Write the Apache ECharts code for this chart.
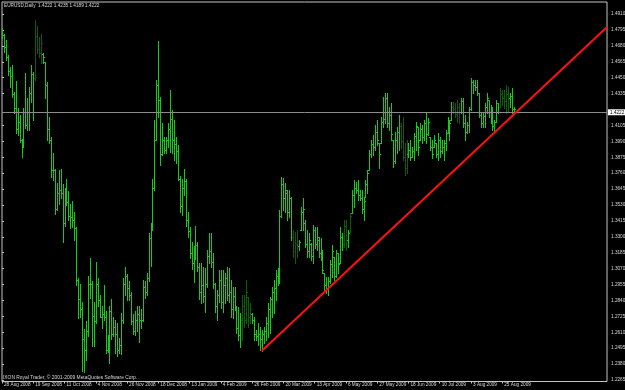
<!DOCTYPE html>
<html><head><meta charset="utf-8">
<script src="https://cdn.jsdelivr.net/npm/echarts@6/dist/echarts.min.js"></script>
<style>html,body{margin:0;padding:0;background:#000;}#c{width:625px;height:390px;}</style>
</head><body><div id="c"></div>
<script>
const symbolName = "EURUSD,Daily";
const copyrightText = "IXON Royal Trader, \u00a9 2001-2009 MetaQuotes Software Corp.";
const dateLabels = ["28 Aug 2008","19 Sep 2008","11 Oct 2008","4 Nov 2008","26 Nov 2008","18 Dec 2008","13 Jan 2009","4 Feb 2009","26 Feb 2009","20 Mar 2009","13 Apr 2009","6 May 2009","27 May 2009","18 Jun 2009","10 Jul 2009","3 Aug 2009","25 Aug 2009"];
const barsPerLabel = 16;
const priceTicks = [1.2265,1.2380,1.2495,1.2610,1.2725,1.2840,1.2955,1.3070,1.3185,1.3300,1.3415,1.3530,1.3645,1.3760,1.3875,1.3990,1.4105,1.4335,1.4450,1.4565,1.4680,1.4795,1.4910];
const opens = [1.4745,1.4760,1.4670,1.4600,1.4500,1.4460,1.4330,1.4230,1.4080,1.4130,1.4000,1.3960,1.4200,1.4110,1.4200,1.4340,1.4480,1.4450,1.4750,1.4660,1.4630,1.4620,1.4560,1.4400,1.4080,1.4000,1.3780,1.3780,1.3500,1.3620,1.3640,1.3620,1.3400,1.3620,1.3550,1.3450,1.3440,1.3420,1.3360,1.2990,1.2850,1.2780,1.2560,1.2480,1.2620,1.2960,1.2960,1.2730,1.2690,1.2960,1.2840,1.2720,1.2740,1.2720,1.2480,1.2490,1.2760,1.2600,1.2650,1.2600,1.2480,1.2520,1.2700,1.2960,1.3020,1.2930,1.2880,1.2690,1.2620,1.2700,1.2740,1.2700,1.2700,1.2940,1.2900,1.3000,1.3290,1.3370,1.3650,1.4000,1.4400,1.4290,1.3900,1.4000,1.3930,1.4000,1.4080,1.4150,1.4000,1.3970,1.3920,1.3720,1.3520,1.3650,1.3700,1.3420,1.3340,1.3180,1.3110,1.3160,1.3240,1.3080,1.2900,1.2950,1.2870,1.2960,1.3160,1.3200,1.3120,1.2960,1.2800,1.2880,1.2990,1.2830,1.2950,1.3000,1.2880,1.2900,1.2780,1.2870,1.2790,1.2640,1.2590,1.2700,1.2800,1.2700,1.2865,1.2720,1.2740,1.2700,1.2600,1.2580,1.2600,1.2560,1.2600,1.2620,1.2680,1.2780,1.2850,1.2900,1.2930,1.3020,1.2990,1.3450,1.3680,1.3580,1.3620,1.3480,1.3580,1.3300,1.3200,1.3250,1.3230,1.3350,1.3480,1.3400,1.3250,1.3200,1.3250,1.3160,1.3350,1.3250,1.3280,1.3180,1.3200,1.3038,1.2950,1.2920,1.2980,1.3100,1.3154,1.3020,1.3180,1.3111,1.3300,1.3250,1.3380,1.3280,1.3335,1.3472,1.3600,1.3650,1.3640,1.3600,1.3580,1.3500,1.3590,1.3680,1.3783,1.3900,1.3970,1.3950,1.4060,1.3978,1.3978,1.4130,1.4150,1.4300,1.4120,1.4180,1.3999,1.3850,1.4000,1.4060,1.4100,1.3990,1.3880,1.3800,1.3900,1.3930,1.3880,1.3920,1.4030,1.4093,1.4000,1.4080,1.4020,1.4120,1.4040,1.4021,1.3950,1.3950,1.3978,1.3900,1.4000,1.3920,1.3950,1.3980,1.4050,1.4140,1.4144,1.4240,1.4220,1.4190,1.4240,1.4200,1.4280,1.4120,1.4060,1.4110,1.4220,1.4420,1.4400,1.4380,1.4339,1.4180,1.4120,1.4170,1.4240,1.4289,1.4200,1.4150,1.4100,1.4130,1.4267,1.4240,1.4330,1.4300,1.4280,1.4330,1.4300,1.4320,1.4222];
const highs = [1.4809,1.4765,1.4722,1.4614,1.4527,1.4541,1.4346,1.4426,1.4230,1.4180,1.4010,1.4230,1.4483,1.4303,1.4382,1.4541,1.4491,1.4867,1.4823,1.4744,1.4765,1.4628,1.4563,1.4418,1.4165,1.4021,1.3905,1.3790,1.3690,1.3780,1.3790,1.3680,1.3650,1.3720,1.3630,1.3540,1.3560,1.3480,1.3370,1.3000,1.2960,1.2830,1.2630,1.2690,1.3020,1.3150,1.2980,1.2830,1.3120,1.3000,1.2880,1.2800,1.2950,1.2760,1.2590,1.2800,1.2850,1.2720,1.2700,1.2680,1.2570,1.2750,1.3000,1.3080,1.3030,1.2980,1.2900,1.2740,1.2760,1.2800,1.2800,1.2780,1.2990,1.2980,1.3040,1.3330,1.3400,1.3720,1.4143,1.4433,1.4715,1.4310,1.4122,1.4021,1.4021,1.4122,1.4361,1.4216,1.4143,1.4021,1.3963,1.3740,1.3720,1.3790,1.3720,1.3480,1.3370,1.3260,1.3230,1.3380,1.3260,1.3110,1.3111,1.3082,1.3074,1.3204,1.3327,1.3327,1.3183,1.2966,1.2915,1.3060,1.3060,1.3060,1.3038,1.3082,1.3074,1.2988,1.2937,1.2937,1.2792,1.2792,1.2749,1.2879,1.2879,1.2988,1.2865,1.2822,1.2749,1.2720,1.2626,1.2677,1.2648,1.2626,1.2648,1.2720,1.2822,1.2865,1.2937,1.2988,1.3060,1.3074,1.3494,1.3732,1.3725,1.3689,1.3638,1.3638,1.3588,1.3349,1.3335,1.3349,1.3277,1.3515,1.3580,1.3421,1.3349,1.3327,1.3255,1.3385,1.3370,1.3371,1.3298,1.3291,1.3204,1.3038,1.3009,1.3009,1.3132,1.3241,1.3154,1.3204,1.3183,1.3371,1.3327,1.3421,1.3421,1.3349,1.3472,1.3638,1.3710,1.3696,1.3710,1.3638,1.3638,1.3588,1.3710,1.3783,1.3927,1.3999,1.4036,1.4108,1.4144,1.3978,1.4166,1.4310,1.4339,1.4339,1.4238,1.4267,1.3999,1.4060,1.4093,1.4180,1.4122,1.4166,1.3978,1.3999,1.3978,1.3999,1.3949,1.4050,1.4129,1.4093,1.4122,1.4108,1.4144,1.4202,1.4158,1.4021,1.3999,1.4036,1.3978,1.4050,1.4021,1.3999,1.3999,1.4072,1.4166,1.4144,1.4274,1.4274,1.4267,1.4289,1.4267,1.4303,1.4303,1.4180,1.4129,1.4238,1.4448,1.4433,1.4433,1.4433,1.4339,1.4194,1.4194,1.4267,1.4339,1.4289,1.4250,1.4238,1.4144,1.4289,1.4267,1.4375,1.4361,1.4361,1.4397,1.4383,1.4339,1.4375,1.4235];
const lows = [1.4736,1.4635,1.4577,1.4469,1.4382,1.4310,1.4194,1.4050,1.4035,1.3985,1.3876,1.3950,1.4086,1.4071,1.4071,1.4274,1.4144,1.4433,1.4628,1.4599,1.4556,1.4556,1.4303,1.3999,1.3977,1.3732,1.3710,1.3465,1.3490,1.3540,1.3580,1.3260,1.3380,1.3530,1.3420,1.3360,1.3370,1.3280,1.2950,1.2710,1.2720,1.2330,1.2320,1.2410,1.2580,1.2860,1.2510,1.2510,1.2680,1.2800,1.2720,1.2640,1.2700,1.2460,1.2470,1.2390,1.2560,1.2580,1.2460,1.2440,1.2460,1.2450,1.2680,1.2880,1.2840,1.2840,1.2670,1.2600,1.2590,1.2620,1.2540,1.2640,1.2690,1.2860,1.2880,1.2980,1.3090,1.3350,1.3640,1.3999,1.4165,1.3818,1.3890,1.3905,1.3905,1.3948,1.3912,1.3905,1.3854,1.3833,1.3710,1.3480,1.3460,1.3600,1.3380,1.3300,1.3150,1.3070,1.2970,1.3140,1.3050,1.2850,1.2822,1.2829,1.2757,1.2937,1.3111,1.3082,1.2930,1.2757,1.2699,1.2829,1.2785,1.2757,1.2822,1.2843,1.2829,1.2720,1.2713,1.2771,1.2605,1.2554,1.2504,1.2554,1.2648,1.2677,1.2648,1.2677,1.2677,1.2554,1.2554,1.2518,1.2482,1.2476,1.2532,1.2554,1.2576,1.2605,1.2720,1.2749,1.2843,1.2951,1.2966,1.3445,1.3494,1.3479,1.3421,1.3443,1.3277,1.3154,1.3111,1.3154,1.3204,1.3349,1.3349,1.3226,1.3154,1.3154,1.3132,1.3111,1.3220,1.3204,1.3154,1.3132,1.3038,1.2915,1.2894,1.2879,1.2966,1.3009,1.2988,1.3009,1.3038,1.3111,1.3204,1.3226,1.3204,1.3226,1.3335,1.3472,1.3515,1.3617,1.3566,1.3566,1.3472,1.3421,1.3588,1.3617,1.3783,1.3876,1.3891,1.3927,1.3963,1.3797,1.3978,1.4093,1.4122,1.4093,1.4072,1.3999,1.3804,1.3830,1.3905,1.3927,1.3941,1.3855,1.3746,1.3761,1.3876,1.3855,1.3876,1.3855,1.3927,1.3891,1.3999,1.3978,1.3999,1.3978,1.4036,1.3927,1.3869,1.3949,1.3876,1.3855,1.3876,1.3905,1.3855,1.3927,1.4050,1.3999,1.4144,1.4194,1.4166,1.4129,1.4122,1.4194,1.4093,1.3999,1.4050,1.4057,1.4216,1.4339,1.4361,1.4325,1.4166,1.4093,1.4093,1.4093,1.4194,1.4166,1.4120,1.4072,1.4050,1.4129,1.4194,1.4238,1.4252,1.4231,1.4194,1.4202,1.4238,1.4194,1.4189];
const closes = [1.4760,1.4670,1.4600,1.4500,1.4460,1.4330,1.4230,1.4080,1.4130,1.4000,1.3960,1.4200,1.4110,1.4200,1.4340,1.4480,1.4450,1.4750,1.4660,1.4630,1.4700,1.4600,1.4400,1.4080,1.4000,1.3780,1.3780,1.3500,1.3620,1.3640,1.3620,1.3400,1.3620,1.3550,1.3450,1.3440,1.3420,1.3360,1.2990,1.2850,1.2780,1.2560,1.2480,1.2620,1.2960,1.2960,1.2730,1.2690,1.2960,1.2840,1.2720,1.2740,1.2720,1.2480,1.2490,1.2760,1.2600,1.2650,1.2600,1.2480,1.2520,1.2700,1.2960,1.3020,1.2930,1.2880,1.2690,1.2620,1.2700,1.2740,1.2700,1.2700,1.2940,1.2900,1.3000,1.3290,1.3370,1.3650,1.4000,1.4400,1.4290,1.3900,1.4000,1.3930,1.4000,1.4080,1.4150,1.4000,1.3970,1.3920,1.3720,1.3520,1.3650,1.3700,1.3420,1.3340,1.3180,1.3110,1.3160,1.3240,1.3080,1.2900,1.2950,1.2870,1.2960,1.3160,1.3200,1.3120,1.2960,1.2800,1.2880,1.2990,1.2830,1.2950,1.3000,1.2880,1.2900,1.2780,1.2870,1.2800,1.2640,1.2590,1.2700,1.2800,1.2700,1.2900,1.2720,1.2780,1.2700,1.2600,1.2580,1.2600,1.2560,1.2600,1.2620,1.2680,1.2780,1.2850,1.2900,1.2930,1.3020,1.2990,1.3450,1.3680,1.3580,1.3640,1.3480,1.3580,1.3300,1.3200,1.3250,1.3230,1.3260,1.3480,1.3500,1.3250,1.3200,1.3280,1.3160,1.3350,1.3250,1.3300,1.3180,1.3200,1.3060,1.2950,1.2920,1.2980,1.3100,1.3200,1.3020,1.3180,1.3100,1.3300,1.3250,1.3380,1.3280,1.3330,1.3450,1.3600,1.3650,1.3640,1.3600,1.3580,1.3500,1.3560,1.3680,1.3760,1.3900,1.3970,1.3950,1.4060,1.4000,1.3900,1.4130,1.4150,1.4300,1.4120,1.4180,1.4040,1.3850,1.4000,1.4060,1.4100,1.3990,1.3880,1.3800,1.3900,1.3930,1.3880,1.3920,1.4030,1.4100,1.3950,1.4080,1.4020,1.4120,1.4040,1.4130,1.3950,1.3900,1.4000,1.3900,1.4000,1.3920,1.3950,1.3980,1.4050,1.4140,1.4120,1.4240,1.4220,1.4190,1.4240,1.4200,1.4280,1.4120,1.4060,1.4110,1.4220,1.4420,1.4400,1.4380,1.4340,1.4180,1.4120,1.4170,1.4240,1.4300,1.4200,1.4150,1.4100,1.4130,1.4270,1.4240,1.4330,1.4300,1.4280,1.4330,1.4300,1.4320,1.4222,1.4222];
const darkRuns = [[17,20],[123,127],[149,151],[175,176],[178,178],[204,207],[231,234],[255,259]];
const trendStart = [133, 1.2476];
const trendEnd = [309.6, 1.4816];

const BRIGHT = '#1ac81a', DARK = '#0c5c0c', FRAME = '#c4c4c4', TXT = '#d8d8d8';
const FONT = '"Liberation Sans", Arial, sans-serif';
const FS = 4.7;
const n = opens.length;
const last = n - 1;
const isDark = i => darkRuns.some(r => i >= r[0] && i <= r[1]);
const barData = opens.map((o, i) => [i, o, highs[i], lows[i], closes[i], isDark(i) ? 1 : 0]);
const labelIdx = dateLabels.map((_, k) => k * barsPerLabel);
const f4 = v => v.toFixed(4);
const titleText = symbolName + '  ' + [opens[last], highs[last], lows[last], closes[last]].map(f4).join(' ');

function renderBar(params, api) {
  const i = api.value(0);
  const pH = api.coord([i, api.value(2)]);
  const pL = api.coord([i, api.value(3)]);
  const pO = api.coord([i, api.value(1)]);
  const pC = api.coord([i, api.value(4)]);
  const x = Math.round(pH[0]) + 0.5;
  const st = { stroke: api.value(5) ? DARK : BRIGHT, lineWidth: 1 };
  const yo = Math.round(pO[1]) + 0.5, yc = Math.round(pC[1]) + 0.5;
  return { type: 'group', children: [
    { type: 'line', shape: { x1: x, y1: Math.round(pH[1]), x2: x, y2: Math.round(pL[1]) + 1 }, style: st },
    { type: 'line', shape: { x1: x - 1.5, y1: yo, x2: x, y2: yo }, style: st },
    { type: 'line', shape: { x1: x, y1: yc, x2: x + 1.5, y2: yc }, style: st }
  ]};
}

const chart = echarts.init(document.getElementById('c'));
chart.setOption({
  animation: false,
  backgroundColor: '#000',
  title: { text: titleText, left: 4, top: 3, padding: 0,
    textStyle: { color: TXT, fontSize: FS, fontWeight: 'normal', fontFamily: FONT } },
  grid: { left: 2, right: 18, top: 2, bottom: 8.5, containLabel: false, outerBoundsMode: 'none',
    show: true, borderColor: FRAME, borderWidth: 1, backgroundColor: '#000' },
  xAxis: { type: 'value', min: 0, max: 309.6,
    axisLine: { show: false }, splitLine: { show: false },
    axisTick: { show: true, customValues: labelIdx, length: 2, lineStyle: { color: FRAME } },
    axisLabel: { show: true, customValues: labelIdx, showMinLabel: true, showMaxLabel: true, hideOverlap: false,
      formatter: v => dateLabels[Math.round(v / barsPerLabel)],
      color: TXT, fontSize: FS, fontFamily: FONT, align: 'left', margin: 1, padding: [0, 0, 0, 2] } },
  yAxis: { type: 'value', position: 'right', min: 1.2254, max: 1.4997,
    axisLine: { show: false }, splitLine: { show: false },
    axisTick: { show: true, customValues: priceTicks, length: 2, lineStyle: { color: FRAME } },
    axisLabel: { show: true, customValues: priceTicks, showMinLabel: true, showMaxLabel: true, hideOverlap: false,
      formatter: f4, color: TXT, fontSize: FS, fontFamily: FONT, margin: 4 } },
  graphic: [{ type: 'text', left: 3, top: 375, silent: true,
    style: { text: copyrightText, fill: TXT, font: '4.9px ' + FONT } }],
  series: [
    { type: 'custom', renderItem: renderBar, data: barData, clip: true,
      encode: { x: 0, y: [1, 2, 3, 4] },
      markLine: { silent: true, symbol: ['none', 'none'], animation: false,
        lineStyle: { color: '#8c8c8c', width: 1, type: 'solid' },
        label: { show: true, position: 'end', formatter: () => f4(closes[last]), color: '#000',
          backgroundColor: '#ffffff', fontSize: FS, fontFamily: FONT, padding: [1, 1, 0, 2], distance: 1 },
        data: [{ yAxis: closes[last] }] } },
    { type: 'line', data: [trendStart, trendEnd], showSymbol: false, silent: true,
      lineStyle: { color: '#ff1010', width: 2 }, z: 5 }
  ]
});
</script></body></html>
